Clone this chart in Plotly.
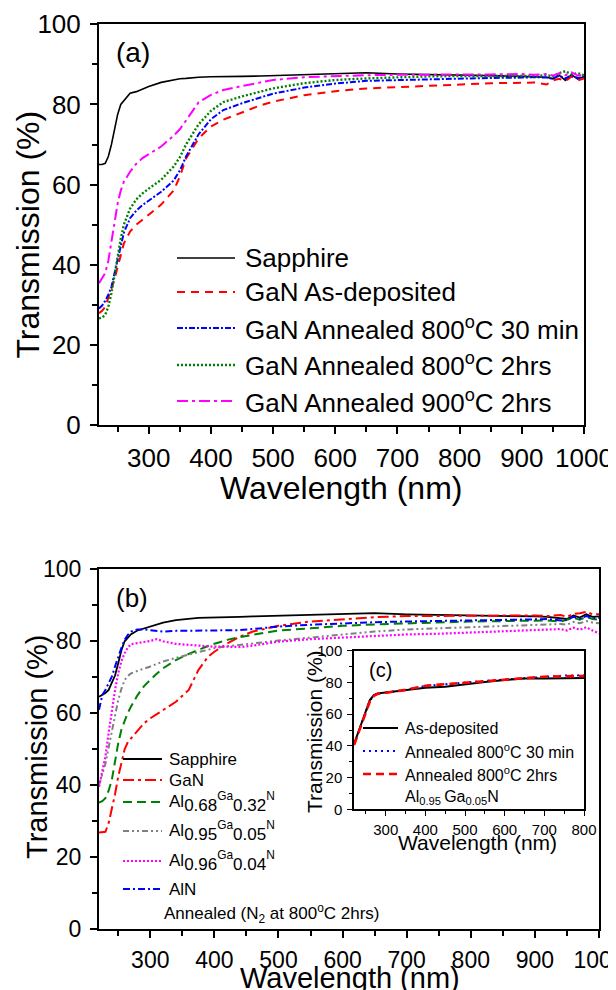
import plotly.graph_objects as go

# ---------------- data: panel (a) ----------------
wl_a = [220, 225, 230, 235, 240, 245, 250, 255, 260, 270, 280, 290, 300, 320, 340, 350, 360, 380, 400,
        420, 450, 480, 500, 550, 600, 650, 700, 750, 800, 850, 900, 920, 940, 950, 960, 970, 980, 990, 1000]
sapphire_a = [65.0, 65.0, 65.3, 67.0, 70.0, 73.5, 77.5, 80.0, 81.0, 82.8, 83.2, 83.9, 84.5, 85.5, 86.1, 86.4,
              86.5, 86.8, 86.9, 87.0, 87.0, 87.1, 87.2, 87.4, 87.7, 87.9, 87.6, 87.5, 87.4, 87.2, 87.0, 86.9,
              86.8, 86.4, 87.3, 86.0, 87.4, 86.3, 87.0]
gan_asdep_a = [27.9, 28.5, 29.5, 31.5, 34.0, 36.5, 39.5, 42.5, 45.3, 48.3, 50.0, 51.2, 52.5, 55.0, 58.5, 62.0,
               66.5, 71.5, 74.5, 76.2, 78.0, 79.8, 80.7, 82.3, 83.3, 84.0, 84.3, 84.6, 85.0, 85.3, 85.4, 85.5,
               85.0, 86.0, 86.4, 85.8, 87.0, 86.0, 86.5]
gan_800_30_a = [29.1, 29.8, 31.0, 32.5, 34.5, 38.0, 41.5, 45.3, 48.0, 51.6, 53.5, 54.9, 56.0, 58.2, 61.0, 63.5,
                67.0, 72.5, 76.3, 78.6, 80.3, 81.8, 82.7, 84.2, 85.2, 85.9, 86.1, 86.3, 86.5, 86.6, 86.7, 86.8,
                86.7, 86.4, 87.2, 86.5, 87.3, 86.6, 86.9]
gan_800_2h_a = [26.6, 26.8, 27.5, 29.5, 32.9, 37.5, 42.8, 46.5, 50.0, 54.0, 56.3, 57.8, 59.0, 61.2, 64.5, 66.8,
                70.0, 75.0, 78.4, 80.6, 82.0, 83.3, 84.0, 85.3, 86.1, 86.5, 86.8, 87.0, 87.1, 87.1, 87.2, 87.1,
                87.3, 87.0, 87.8, 88.3, 87.5, 87.8, 87.3]
gan_900_2h_a = [35.4, 36.5, 37.9, 41.0, 45.3, 50.5, 55.3, 58.5, 60.7, 63.2, 65.2, 66.6, 67.6, 69.5, 72.2, 73.8,
                76.0, 80.5, 82.4, 83.6, 84.6, 85.6, 86.1, 86.8, 87.1, 87.3, 87.4, 87.4, 87.5, 87.5, 87.6, 87.4,
                87.6, 87.2, 87.8, 87.3, 88.0, 87.2, 87.3]

# ---------------- data: panel (b) ----------------
wl_b = [220, 225, 230, 235, 240, 245, 250, 255, 260, 265, 270, 280, 290, 300, 310, 320, 340, 360, 375, 390,
        400, 420, 440, 460, 500, 550, 600, 650, 700, 750, 800, 850, 900, 920, 940, 950, 960, 970, 980, 990, 1000]
sapphire_b = [64.6, 65.0, 65.6, 66.5, 68.3, 70.5, 73.9, 77.5, 80.0, 81.1, 82.0, 83.0, 83.6, 84.1, 84.7, 85.2,
              85.9, 86.3, 86.5, 86.6, 86.6, 86.7, 86.8, 86.9, 87.1, 87.3, 87.6, 87.8, 87.5, 87.4, 87.2, 87.0,
              86.9, 86.8, 86.5, 86.2, 87.2, 86.6, 87.5, 86.8, 86.9]
gan_b = [26.9, 27.0, 27.1, 29.5, 33.1, 37.5, 42.4, 46.5, 50.0, 52.0, 53.1, 55.2, 57.2, 58.6, 59.8, 60.9, 63.2,
         66.5, 72.0, 75.7, 77.1, 79.4, 81.3, 82.7, 84.3, 85.5, 86.1, 86.7, 87.0, 87.1, 87.1, 87.2, 87.2, 87.0,
         87.3, 86.8, 87.6, 87.8, 88.2, 87.5, 87.5]
al068_b = [35.2, 35.6, 36.4, 38.5, 41.5, 46.5, 51.7, 55.5, 58.1, 60.2, 61.9, 65.0, 67.5, 69.3, 71.0, 72.5, 74.8,
           76.5, 77.7, 78.7, 79.3, 80.4, 81.2, 81.8, 83.0, 83.6, 84.3, 84.7, 85.0, 85.2, 85.5, 85.6, 85.7, 85.8,
           85.5, 85.9, 86.5, 86.0, 86.8, 86.2, 86.0]
al095_b = [40.0, 43.0, 46.0, 50.5, 55.0, 59.5, 63.7, 66.8, 69.3, 70.4, 71.1, 71.8, 72.3, 73.0, 73.7, 74.4, 75.4,
           76.3, 76.9, 77.6, 78.1, 78.6, 79.1, 79.4, 80.2, 81.1, 82.0, 82.7, 83.3, 83.6, 83.9, 84.2, 84.5, 84.6,
           84.8, 84.6, 85.4, 85.0, 85.6, 85.2, 85.0]
al096_b = [39.6, 43.5, 48.0, 54.5, 60.9, 66.5, 71.1, 74.5, 76.7, 78.3, 79.2, 79.6, 79.8, 80.1, 80.6, 80.0, 79.3,
           79.0, 78.8, 78.6, 78.5, 78.5, 78.4, 78.8, 79.9, 80.6, 81.1, 81.5, 81.9, 82.1, 82.4, 82.7, 83.1, 83.3,
           83.4, 83.0, 83.8, 83.2, 83.9, 83.0, 82.2]
aln_b = [61.0, 65.0, 66.5, 68.3, 70.2, 73.0, 75.7, 78.2, 80.4, 81.8, 82.7, 83.3, 83.3, 83.1, 82.9, 82.7, 82.9,
         82.9, 83.0, 83.0, 83.0, 83.1, 83.1, 83.4, 84.1, 84.6, 85.0, 85.3, 85.5, 85.6, 85.7, 85.9, 86.1, 86.2,
         85.8, 86.0, 86.8, 86.3, 87.0, 86.5, 86.5]

# ---------------- data: inset (c) ----------------
wl_c = [220, 230, 240, 250, 260, 270, 280, 300, 350, 400, 450, 500, 550, 600, 650, 700, 750, 800]
asdep_c = [41.0, 47.9, 55.3, 62.0, 68.9, 72.0, 73.1, 73.7, 75.2, 76.7, 77.3, 79.0, 80.3, 81.5, 82.4, 82.4, 82.6, 82.8]
ann30_c = [40.8, 47.7, 55.1, 61.8, 68.5, 71.8, 73.0, 73.6, 75.3, 77.8, 78.7, 79.9, 81.0, 81.9, 82.9, 83.8, 84.3, 84.5]
ann2h_c = [40.5, 47.5, 55.0, 61.5, 68.0, 71.5, 72.8, 73.5, 75.3, 77.9, 78.8, 80.0, 81.0, 81.9, 82.8, 83.6, 83.9, 84.0]

x_ticks_main = [300, 400, 500, 600, 700, 800, 900, 1000]
x_ticks_inset = [300, 400, 500, 600, 700, 800]
y_ticks = [0, 20, 40, 60, 80, 100]

# page has an 8px body margin: the figure sits at (8, 8) inside the 616x990 window
OFF = 8
W, H = 616 - OFF, 990 - OFF
FONT = "Liberation Sans, Arial, sans-serif"


def px(x):
    return (x - OFF) / W


def py(y):
    return 1 - (y - OFF) / H


def alga(a, g):
    big = "<span style='font-size:17px'>%s</span>"
    return ("Al<sub>" + big % a + "</sub><sup>Ga</sup><sub>" + big % g + "</sub><sup>N</sup>")


series_a = [
    ("Sapphire", sapphire_a, "black", "solid", 1.6),
    ("GaN As-deposited", gan_asdep_a, "#ff0000", "8px,6px", 2),
    ("GaN Annealed 800<sup>o</sup>C 30 min", gan_800_30_a, "#0000ff", "6px,2px,2px,2px", 2),
    ("GaN Annealed 800<sup>o</sup>C 2hrs", gan_800_2h_a, "#008000", "2px,2px", 2.4),
    ("GaN Annealed 900<sup>o</sup>C 2hrs", gan_900_2h_a, "#ff00ff", "11px,4px,3px,4px", 2),
]
series_b = [
    ("Sapphire", sapphire_b, "black", "solid", 1.8),
    ("GaN", gan_b, "#ff0000", "11px,4px,3px,4px", 2),
    (alga("0.68", "0.32"), al068_b, "#008000", "9px,5px", 2),
    (alga("0.95", "0.05"), al095_b, "#808080", "6px,3px,2px,3px,2px,3px", 2),
    (alga("0.96", "0.04"), al096_b, "#ff00ff", "2px,2px", 2.2),
    ("AlN", aln_b, "#0000ff", "7px,3px,2px,3px", 2),
]
series_c = [
    ("Annealed 800<sup>o</sup>C 30 min", ann30_c, "#0000ff", "2px,4px", 2),
    ("As-deposited", asdep_c, "black", "solid", 2),
    ("Annealed 800<sup>o</sup>C 2hrs", ann2h_c, "#ff0000", "8px,5px", 2.6),
]

fig = go.Figure()
for name, ys, col, dash, w in series_a:
    fig.add_trace(go.Scatter(x=wl_a, y=ys, mode="lines", name=name, showlegend=False,
                             line=dict(color=col, dash=dash, width=w), xaxis="x", yaxis="y"))
for name, ys, col, dash, w in series_b:
    fig.add_trace(go.Scatter(x=wl_b, y=ys, mode="lines", name=name, showlegend=False,
                             line=dict(color=col, dash=dash, width=w), xaxis="x2", yaxis="y2"))
for name, ys, col, dash, w in series_c:
    fig.add_trace(go.Scatter(x=wl_c, y=ys, mode="lines", name=name, showlegend=False,
                             line=dict(color=col, dash=dash, width=w), xaxis="x3", yaxis="y3"))


def axis(dom, rng, ticks, minor_d, fs, lw, tl, anchor, standoff):
    return dict(domain=dom, range=rng, tickvals=ticks, ticks="outside", ticklen=tl, tickwidth=lw * 0.8,
                tickcolor="black", showline=True, linewidth=lw, linecolor="black", mirror=True,
                showgrid=False, zeroline=False, anchor=anchor, ticklabelstandoff=standoff,
                automargin=False, ticklabeloverflow="allow",
                tickfont=dict(family=FONT, size=fs, color="black"),
                minor=dict(dtick=minor_d, ticks="outside", ticklen=tl * 0.65, tickwidth=lw * 0.8,
                           tickcolor="black", showgrid=False))


dom_ax = [px(99), px(584)]
dom_ay = [py(425), py(24.3)]
dom_bx = [px(99), px(599)]
dom_by = [py(929.3), py(569.3)]
dom_cx = [px(354), px(584)]
dom_cy = [py(809.3), py(650.7)]

fig.update_layout(
    width=W, height=H, margin=dict(l=0, r=0, t=0, b=0, autoexpand=False),
    paper_bgcolor="white", plot_bgcolor="white", showlegend=False,
    xaxis=axis(dom_ax, [220, 1000], x_ticks_main, 50, 26, 2, 7, "y", 2),
    yaxis=axis(dom_ay, [0, 100], y_ticks, 10, 26, 2, 7, "x", 4),
    xaxis2=axis(dom_bx, [220, 1000], x_ticks_main, 50, 23, 2, 7, "y2", 2),
    yaxis2=axis(dom_by, [0, 100], y_ticks, 10, 23, 2, 7, "x2", 4),
    xaxis3=axis(dom_cx, [220, 800], x_ticks_inset, 50, 15, 1.5, 5, "y3", 1),
    yaxis3=axis(dom_cy, [0, 100], y_ticks, 10, 15, 1.5, 5, "x3", 2),
)

ann = []
shapes = []


def text(x, y, s, size, xanchor="center", angle=0):
    ann.append(dict(x=px(x), y=py(y), xref="paper", yref="paper", text=s, showarrow=False,
                    xanchor=xanchor, yanchor="middle", textangle=angle,
                    font=dict(family=FONT, size=size, color="black")))


# axis titles
text(27.5, 235, "Transmission (%)", 32, angle=-90)
text(341, 488, "Wavelength (nm)", 32)
text(37, 747, "Transmission (%)", 29, angle=-90)
text(350, 978, "Wavelength (nm)", 29)
text(314, 732, "Transmission (%)", 21, angle=-90)
text(477, 842, "Wavelength (nm)", 21)

# panel labels
text(133, 52, "(a)", 28)
text(132, 598, "(b)", 26)
text(380, 670, "(c)", 20)


def legend(entries, rows, x0, x1, xt, size):
    for (name, _, col, dash, w), yy in zip(entries, rows):
        shapes.append(dict(type="line", xref="paper", yref="paper", x0=px(x0), x1=px(x1),
                           y0=py(yy), y1=py(yy), line=dict(color=col, dash=dash, width=w)))
        text(xt, yy, name, size, xanchor="left")


legend(series_a, [258, 292, 328, 365, 401], 177, 235, 243, 26)
legend(series_b, [759, 780, 802, 831, 861, 889], 123, 162, 167, 17)
text(162, 913, "Annealed (N<sub>2</sub> at 800<sup>o</sup>C 2hrs)", 17, xanchor="left")
legend([series_c[1], series_c[0], series_c[2]], [728, 751, 774], 363, 398, 403, 16)
text(403, 797, "Al<sub>0.95 </sub>Ga<sub>0.05</sub>N", 16, xanchor="left")

fig.update_layout(annotations=ann, shapes=shapes)
fig.write_html("out.html")
